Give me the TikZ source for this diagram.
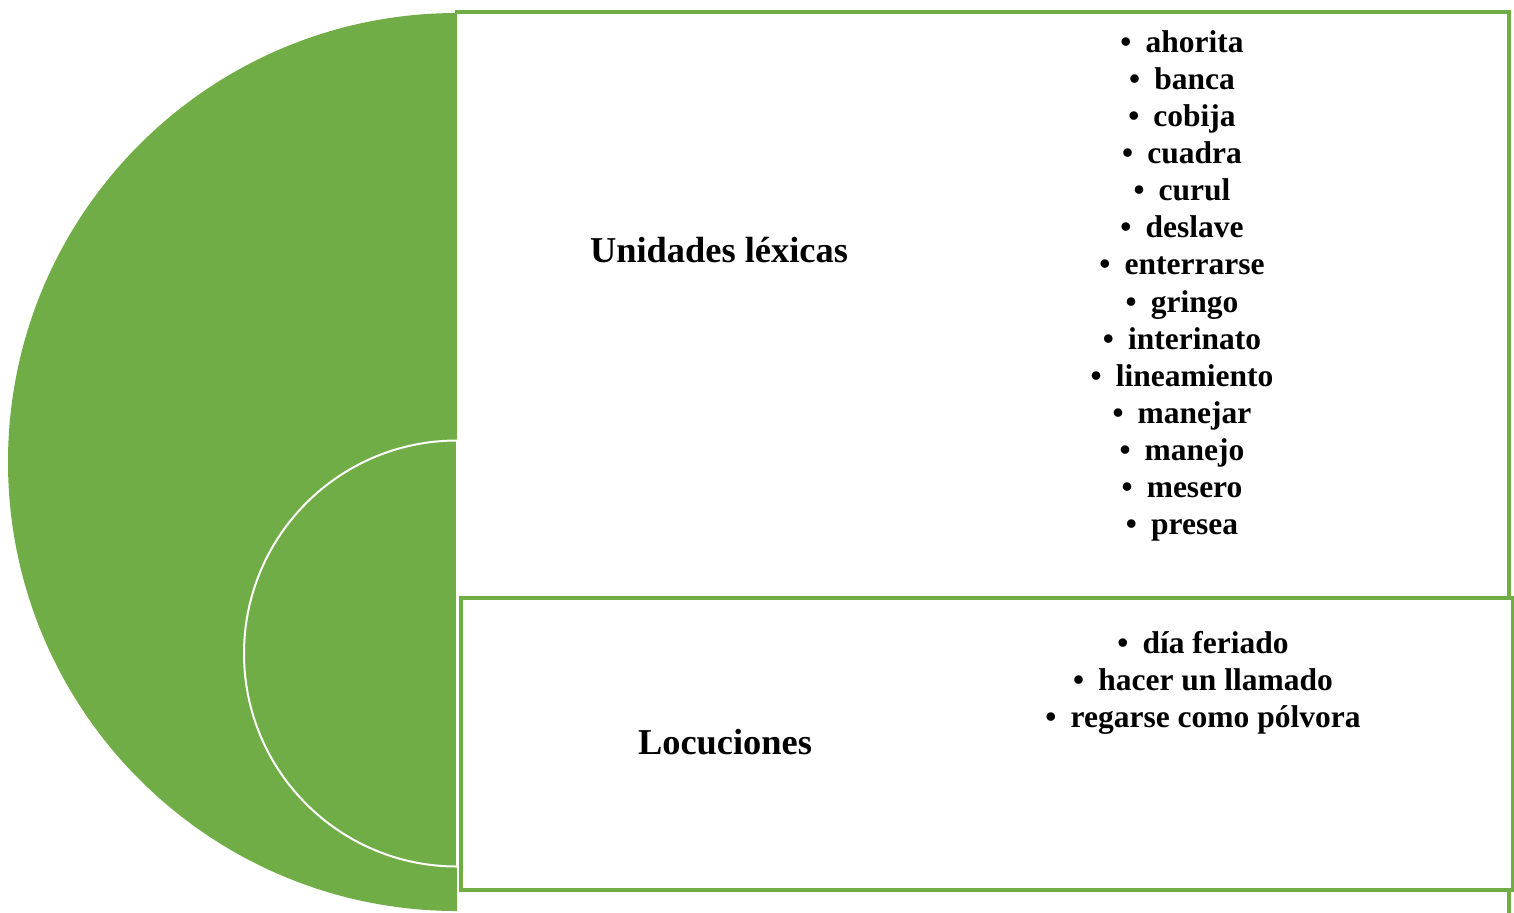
\documentclass[tikz,border=0pt]{standalone}
\usepackage{fontspec}
\setmainfont{Liberation Serif}
\usepackage{xcolor}
\definecolor{leafgreen}{HTML}{70AD47}
\newcommand{\headfont}{\fontsize{18.2}{22}\selectfont\bfseries}
\newcommand{\itemfont}{\fontsize{15.75}{18.6}\selectfont\bfseries}
\newcommand{\wordbullet}{\textbullet\hspace{0.45em}}
\tikzset{
    listbox/.style={draw=leafgreen, line width=1.6pt, fill=white},
    heading/.style={anchor=base, inner sep=0pt, font=\headfont},
    entry/.style={anchor=base, inner sep=0pt, font=\itemfont},
}

\begin{document}
\begin{tikzpicture}[x=0.5pt, y=-0.5pt]
    \clip (0,0) rectangle (1514,912);
    % boxes behind the half discs
    \draw[listbox] (455,12) -- (1509,12) -- (1509,950);
    \draw[listbox] (461,598) rectangle (1513,890);
    % half discs
    \fill[leafgreen] (457,13) arc[start angle=270, end angle=90, radius=449] -- cycle;
    \draw[white, line width=1pt, fill=leafgreen] (457,440.5) arc[start angle=270, end angle=90, radius=213] -- cycle;
    % headings
    \node[heading] (unidades) at (719,262) {Unidades léxicas};
    \node[heading] (locuciones) at (725,754) {Locuciones};
    % word lists
    \foreach \i/\w in {0/ahorita, 1/banca, 2/cobija, 3/cuadra, 4/curul, 5/deslave,
        6/enterrarse, 7/gringo, 8/interinato, 9/lineamiento, 10/manejar,
        11/manejo, 12/mesero, 13/presea} {
        \node[entry] (lex\i) at (1182, {52 + 37.15*\i}) {\wordbullet\w};
    }
    \foreach \i/\w in {0/día feriado, 1/hacer un llamado, 2/regarse como pólvora} {
        \node[entry] (loc\i) at (1203, {653 + 37*\i}) {\wordbullet\w};
    }
\end{tikzpicture}
\end{document}
